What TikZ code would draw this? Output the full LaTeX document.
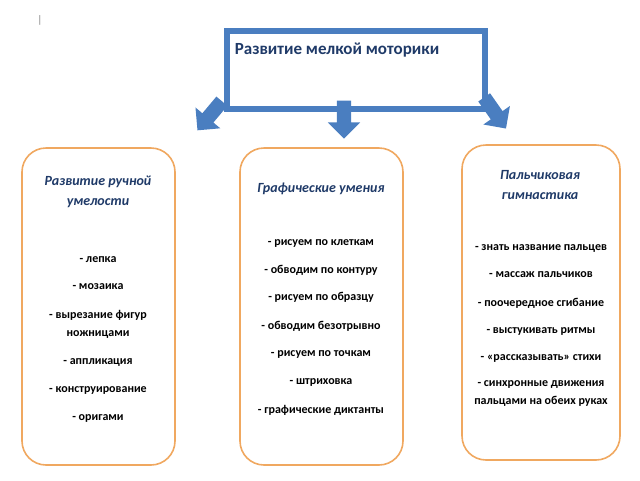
\documentclass[tikz,border=0pt]{standalone}
\usepackage{fontspec}
\setmainfont{Carlito}
\usetikzlibrary{shapes.arrows}
\definecolor{bl}{HTML}{4A7EC0}
\definecolor{bdark}{HTML}{1F3A68}
\definecolor{org}{HTML}{F0A860}
\begin{document}
\begin{tikzpicture}[x=1pt,y=-1pt,
  col/.style={draw=org,line width=1.6pt,rounded corners=24pt,fill=white},
  ttl/.style={font=\bfseries\itshape\fontsize{14}{20}\selectfont,text=bdark,align=center},
  itm/.style={font=\bfseries\fontsize{12}{18}\selectfont,align=center},
  barr/.style={single arrow,fill=bl,draw=none,minimum height=38pt,single arrow head extend=9pt,inner sep=7pt}]
\useasboundingbox (0,0) rectangle (640,480);
\node[font=\fontsize{11}{11}\selectfont,text=gray] (mk) at (40,20) {|};
\node[draw=bl,line width=6pt,minimum width=258pt,minimum height=78pt,inner sep=0pt] (top) at (356,69.5) {};
\node[font=\fontsize{17}{17}\selectfont\bfseries,text=bdark] (tt) at (337,50) {Развитие мелкой моторики};
\node[barr,rotate=-130] (a1) at (212,113) {};
\node[barr,rotate=-90] (a2) at (344,116) {};
\node[barr,rotate=-55] (a3) at (493,110) {};
\draw[col] (22,148) rectangle (175,465);
\draw[col] (240,148) rectangle (403,465);
\draw[col] (462,145) rectangle (620,460);
\node[ttl] (t1) at (98,192) {Развитие ручной\\умелости};
\node[ttl] (t2) at (321,189) {Графические умения};
\node[ttl] (t3) at (540,185) {Пальчиковая\\гимнастика};
\foreach \t/\y in {- лепка/260,- мозаика/287,- аппликация/362,- конструирование/390,- оригами/418}
  \node[itm] at (98,\y) {\t};
\node[itm] (l3) at (98,324) {- вырезание фигур\\ножницами};
\foreach \t/\y in {- рисуем по клеткам/243,- обводим по контуру/270,- рисуем по образцу/297,- обводим безотрывно/326,- рисуем по точкам/354,- штриховка/382,- графические диктанты/410}
  \node[itm] at (321,\y) {\t};
\foreach \t/\y in {- знать название пальцев/248,- массаж пальчиков/275,- поочередное сгибание/303,- выстукивать ритмы/331,- «рассказывать» стихи/358}
  \node[itm] at (541,\y) {\t};
\node[itm] (r6) at (541,393) {- синхронные движения\\пальцами на обеих руках};
\end{tikzpicture}
\end{document}
